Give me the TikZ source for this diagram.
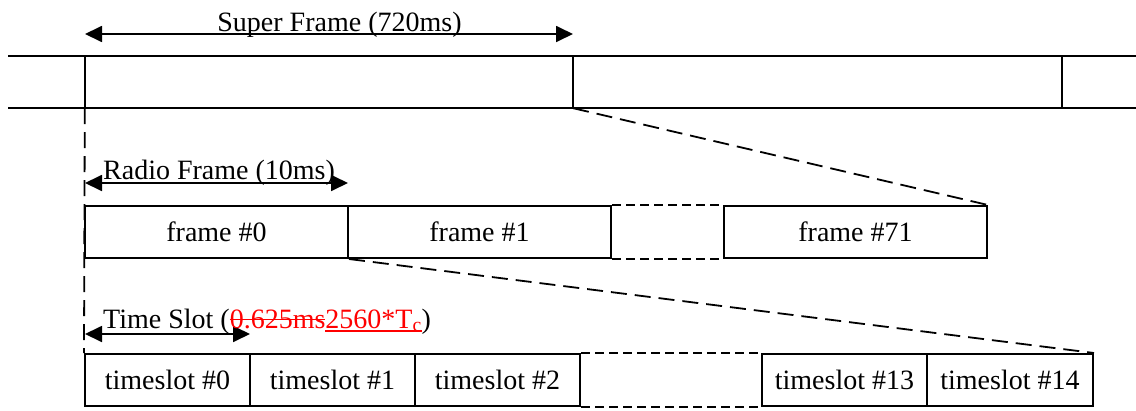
\documentclass[tikz,border=0pt]{standalone}
\usepackage{fontspec}
\setmainfont{Liberation Serif}
\usetikzlibrary{arrows.meta}
\newsavebox\mystbox
\newcommand\mystrk[1]{\sbox\mystbox{#1}\rlap{\rule[0.27em]{\wd\mystbox}{1.3pt}}\usebox\mystbox}
\newcommand\myundl[1]{\sbox\mystbox{#1}\rlap{\rule[-0.13em]{\wd\mystbox}{1.3pt}}\usebox\mystbox}
\begin{document}
\begin{tikzpicture}[x=1pt,y=-1pt,
  every node/.style={font=\fontsize{28}{33}\selectfont},
  ln/.style={line width=2pt},
  box/.style={draw,line width=2pt,rectangle,inner sep=0pt,minimum height=52pt},
  fbox/.style={box,minimum width=263pt},
  tbox/.style={box,minimum width=165pt},
  sfbox/.style={rectangle,inner sep=0pt,minimum height=52pt},
  gap/.style={line width=1.8pt,dash pattern=on 9pt off 5pt},
  zoomline/.style={line width=1.8pt,dash pattern=on 16pt off 8pt},
  dimarrow/.style={line width=1.8pt,{Triangle[length=17pt,width=16pt]}-{Triangle[length=17pt,width=16pt]}},
  lbl/.style={anchor=base,inner sep=0pt}]
\useasboundingbox (0,0) rectangle (1136,410);
% super frame band
\node[sfbox,minimum width=488pt] (sf0) at (329,82) {};
\node[sfbox,minimum width=489pt] (sf1) at (817.5,82) {};
\coordinate (bl) at (8,56);
\coordinate (br) at (1136,56);
\coordinate (cl) at (8,108);
\coordinate (cr) at (1136,108);
\draw[ln] (bl) -- (br);
\draw[ln] (cl) -- (cr);
\draw[ln] (sf0.north west) -- (sf0.south west);
\draw[ln] (sf0.north east) -- (sf0.south east);
\draw[ln] (sf1.north east) -- (sf1.south east);
% super frame dimension
\coordinate (sa) at (85,34);
\coordinate (sb) at (573,34);
\draw[dimarrow] (sa) -- (sb);
\node[lbl] (sflbl) at (339.5,31) {Super Frame (720ms)};
% frames
\node[fbox] (f0) at (216.5,232) {frame \#0};
\node[fbox] (f1) at (479.5,232) {frame \#1};
\node[fbox] (f71) at (855.5,232) {frame \#71};
\draw[gap] (f1.north east) -- (f71.north west);
\draw[gap] (f1.south east) -- (f71.south west);
\coordinate (ra) at (85,183);
\coordinate (rb) at (348,183);
\draw[dimarrow] (ra) -- (rb);
\node[lbl,anchor=base west] (rflbl) at (103,179) {Radio Frame (10ms)};
% timeslots
\node[tbox] (t0) at (167.5,380) {timeslot \#0};
\node[tbox] (t1) at (332.5,380) {timeslot \#1};
\node[tbox] (t2) at (497.5,380) {timeslot \#2};
\node[tbox] (t13) at (844.5,380) {timeslot \#13};
\node[tbox,minimum width=166pt] (t14) at (1010,380) {timeslot \#14};
\draw[gap] (t2.north east) -- (t13.north west);
\draw[gap] (t2.south east) -- (t13.south west);
\coordinate (ta) at (85,334);
\coordinate (tb) at (250,334);
\draw[dimarrow] (ta) -- (tb);
\node[lbl,anchor=base west] (tslbl) at (103,328) {Time Slot ({\color{red}\mystrk{0.625ms}\myundl{2560*T}\myundl{\textsubscript{c}}})};
% zoom connectors
\draw[zoomline] (sf0.south east) -- (f71.north east);
\draw[zoomline] (f0.south east) -- (t14.north east);
\draw[zoomline] (sf0.south west) -- (t0.north west);
\end{tikzpicture}
\end{document}
